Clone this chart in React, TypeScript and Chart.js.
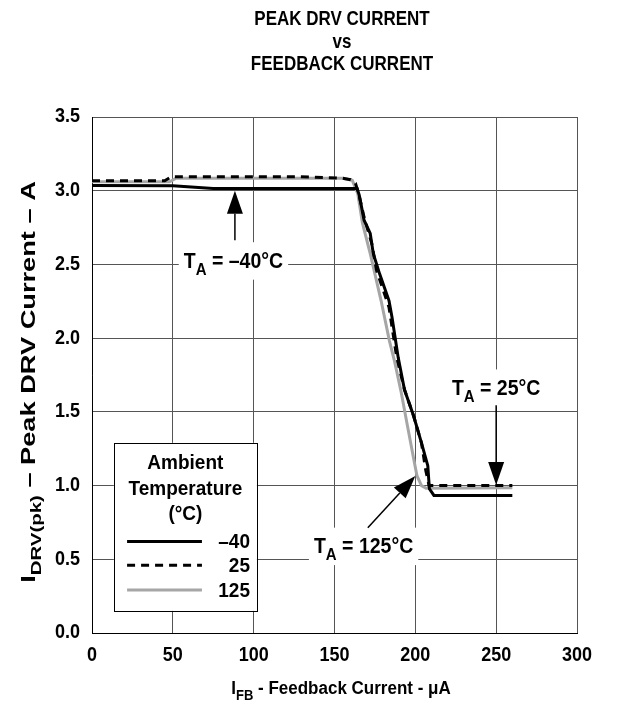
import React, { useEffect, useRef } from "react";
import { Chart, registerables } from "chart.js";

Chart.register(...registerables);

// ---------- data ----------
const TITLE_LINES = ["PEAK DRV CURRENT", "vs", "FEEDBACK CURRENT"];
const X_TICKS = [0, 50, 100, 150, 200, 250, 300];
const X_TICK_LABELS = ["0", "50", "100", "150", "200", "250", "300"];
const Y_TICKS = [0, 0.5, 1, 1.5, 2, 2.5, 3, 3.5];
const Y_TICK_LABELS = ["0.0", "0.5", "1.0", "1.5", "2.0", "2.5", "3.0", "3.5"];

const SERIES_LABELS = ["\u201340", "25", "125"];
const LEGEND_TITLE = ["Ambient", "Temperature", "(\u00B0C)"];

// T_A = -40 °C
const X_M40 = [0, 50, 75, 164, 165.3, 166.3, 168.3, 172.1, 174, 177.9, 183.7, 185.6, 189.4, 193.3, 199, 203.8, 207.7, 208.7, 211.5, 260];
const Y_M40 = [3.035, 3.034, 3.015, 3.015, 2.97, 2.914, 2.8, 2.71, 2.573, 2.436, 2.255, 2.14, 1.868, 1.65, 1.47, 1.29, 1.135, 0.978, 0.933, 0.933];

// T_A = 25 °C
const X_25 = [0, 45, 49, 128, 155, 160, 163, 165.4, 168.3, 173.1, 176, 183.7, 188.5, 193.3, 199, 203.8, 206.5, 208.5, 260];
const Y_25 = [3.068, 3.068, 3.095, 3.095, 3.085, 3.075, 3.05, 2.96, 2.82, 2.64, 2.46, 2.21, 1.868, 1.65, 1.47, 1.29, 1.1, 1.0, 1.0];

// T_A = 125 °C
const X_125 = [0, 48, 52, 155, 161, 164.4, 167.3, 172.1, 178.8, 184, 187, 191.3, 195.2, 199, 201, 203.8, 206.7, 260];
const Y_125 = [3.06, 3.06, 3.085, 3.085, 3.07, 2.98, 2.78, 2.573, 2.255, 1.98, 1.85, 1.63, 1.4, 1.18, 1.067, 1.0, 0.982, 0.985];

// annotation texts
const ANN_M40 = "\u201340\u00B0C";
const ANN_25 = "25\u00B0C";
const ANN_125 = "125\u00B0C";

// ---------- helpers ----------
const FONT_FAMILY = '"Liberation Sans", Arial, Helvetica, sans-serif';
const f = (size: number) => `bold ${size}px ${FONT_FAMILY}`;
const STRETCH = 1.1; // text in the figure is slightly taller than wide

type Part = { t: string; sub?: boolean };

function partsWidth(ctx: CanvasRenderingContext2D, parts: Part[], size: number) {
  let w = 0;
  for (const p of parts) {
    ctx.font = f(p.sub ? Math.round(size * 0.75) : size);
    w += ctx.measureText(p.t).width;
  }
  return w;
}

function drawPartsLocal(ctx: CanvasRenderingContext2D, parts: Part[], size: number, align: "left" | "center") {
  const w = partsWidth(ctx, parts, size);
  let cx = align === "center" ? -w / 2 : 0;
  ctx.textAlign = "left";
  ctx.textBaseline = "alphabetic";
  for (const p of parts) {
    const s = p.sub ? Math.round(size * 0.75) : size;
    ctx.font = f(s);
    ctx.fillText(p.t, cx, p.sub ? size * 0.32 : 0);
    cx += ctx.measureText(p.t).width;
  }
  return w;
}

function drawStretched(
  ctx: CanvasRenderingContext2D,
  parts: Part[],
  x: number,
  y: number,
  size: number,
  align: "left" | "center",
  stretch = STRETCH
) {
  ctx.save();
  ctx.translate(x, y);
  ctx.scale(1, stretch);
  const w = drawPartsLocal(ctx, parts, size, align);
  ctx.restore();
  return w;
}

function arrow(ctx: CanvasRenderingContext2D, x0: number, y0: number, x1: number, y1: number) {
  const ang = Math.atan2(y1 - y0, x1 - x0);
  const hl = 23;
  const hw = 8;
  const bx = x1 - hl * Math.cos(ang);
  const by = y1 - hl * Math.sin(ang);
  ctx.strokeStyle = "#000";
  ctx.lineWidth = 1.5;
  ctx.beginPath();
  ctx.moveTo(x0, y0);
  ctx.lineTo(bx, by);
  ctx.stroke();
  ctx.fillStyle = "#000";
  ctx.beginPath();
  ctx.moveTo(x1, y1);
  ctx.lineTo(bx + hw * Math.sin(ang), by - hw * Math.cos(ang));
  ctx.lineTo(bx - hw * Math.sin(ang), by + hw * Math.cos(ang));
  ctx.closePath();
  ctx.fill();
}

const decorPlugin = {
  id: "decor",
  afterDatasetsDraw(chart: any) {
    const ctx: CanvasRenderingContext2D = chart.ctx;
    const xs = chart.scales.x;
    const ys = chart.scales.y;
    const ca = chart.chartArea;
    const X = (v: number) => xs.getPixelForValue(v);
    const Y = (v: number) => ys.getPixelForValue(v);
    ctx.save();
    ctx.fillStyle = "#000";

    // tick labels (taken from the library's scales)
    xs.ticks.forEach((t: any, i: number) => {
      const lbl = t.label ?? X_TICK_LABELS[i];
      ctx.save();
      ctx.translate(X(t.value), ca.bottom + 23);
      ctx.scale(1, STRETCH);
      ctx.font = f(18);
      ctx.textAlign = "center";
      ctx.textBaseline = "middle";
      ctx.fillText(String(lbl), 0, 0);
      ctx.restore();
    });
    ys.ticks.forEach((t: any, i: number) => {
      const lbl = t.label ?? Y_TICK_LABELS[i];
      ctx.save();
      ctx.translate(ca.left - 12, Y(t.value));
      ctx.scale(1, STRETCH);
      ctx.font = f(18);
      ctx.textAlign = "right";
      ctx.textBaseline = "middle";
      ctx.fillText(String(lbl), 0, 0);
      ctx.restore();
    });

    // title
    const tcx = 342;
    const tb = [25, 47.5, 70];
    TITLE_LINES.forEach((l, i) => drawStretched(ctx, [{ t: l }], tcx, tb[i], 17, "center", 1.15));

    // x title
    drawStretched(
      ctx,
      [{ t: "I" }, { t: "FB", sub: true }, { t: " - Feedback Current - \u03BCA" }],
      341,
      694,
      17,
      "center"
    );

    // y title (rotated)
    ctx.save();
    ctx.translate(35, 382);
    ctx.rotate(-Math.PI / 2);
    ctx.scale(1.36, 1);
    drawPartsLocal(
      ctx,
      [{ t: "I" }, { t: "DRV(pk)", sub: true }, { t: " \u2013 Peak DRV Current \u2013 A" }],
      20,
      "center"
    );
    ctx.restore();

    // annotations with white boxes
    const ann = (val: string, xCenter: number, by: number) => {
      const parts: Part[] = [{ t: "T" }, { t: "A", sub: true }, { t: " = " + val }];
      const size = 19.5;
      const w = partsWidth(ctx, parts, size);
      const cx = X(xCenter);
      const byPx = Y(by);
      const capH = size * 0.72 * STRETCH;
      ctx.fillStyle = "#fff";
      ctx.fillRect(cx - w / 2 - 5, byPx - capH - 10, w + 10, capH + 22);
      ctx.fillStyle = "#000";
      drawStretched(ctx, parts, cx, byPx, size, "center");
    };
    ann(ANN_M40, 87.5, 2.478);
    ann(ANN_25, 250, 1.615);
    ann(ANN_125, 168, 0.542);

    arrow(ctx, X(88.4), Y(2.664), X(88.4), Y(3.0));
    arrow(ctx, X(250), Y(1.545), X(250), Y(1.004));
    arrow(ctx, X(170.6), Y(0.714), X(200), Y(1.065));

    // legend box
    const lx0 = X(13.5), lx1 = X(102), ly0 = Y(1.29), ly1 = Y(0.15);
    ctx.fillStyle = "#fff";
    ctx.fillRect(lx0, ly0, lx1 - lx0, ly1 - ly0);
    ctx.strokeStyle = "#000";
    ctx.lineWidth = 1;
    ctx.strokeRect(Math.round(lx0) + 0.5, Math.round(ly0) + 0.5, Math.round(lx1 - lx0), Math.round(ly1 - ly0));
    ctx.fillStyle = "#000";
    const lcx = (lx0 + lx1) / 2;
    const ltb = [1.11, 0.933, 0.765];
    LEGEND_TITLE.forEach((l, i) => drawStretched(ctx, [{ t: l }], lcx, Y(ltb[i]), 19, "center"));
    const ly = [0.62, 0.46, 0.292];
    chart.data.datasets.forEach((ds: any, i: number) => {
      ctx.save();
      ctx.strokeStyle = ds.borderColor;
      ctx.lineWidth = ds.borderWidth;
      ctx.setLineDash(ds.borderDash || []);
      ctx.beginPath();
      ctx.moveTo(X(21.7), Y(ly[i]));
      ctx.lineTo(X(68), Y(ly[i]));
      ctx.stroke();
      ctx.restore();
      ctx.save();
      ctx.translate(X(97.7), Y(ly[i]) + 1);
      ctx.scale(1, STRETCH);
      ctx.fillStyle = "#000";
      ctx.font = f(19);
      ctx.textAlign = "right";
      ctx.textBaseline = "middle";
      ctx.fillText(ds.label, 0, 0);
      ctx.restore();
    });

    ctx.restore();
  },
};

const toPts = (xs: number[], ys: number[]) => xs.map((x, i) => ({ x, y: ys[i] }));

export default function App() {
  const ref = useRef<HTMLCanvasElement | null>(null);
  useEffect(() => {
    if (!ref.current) return;
    const chart = new Chart(ref.current, {
      type: "line",
      data: {
        datasets: [
          {
            label: SERIES_LABELS[0],
            data: toPts(X_M40, Y_M40),
            borderColor: "#000",
            borderWidth: 3,
            pointRadius: 0,
            order: 1,
          },
          {
            label: SERIES_LABELS[1],
            data: toPts(X_25, Y_25),
            borderColor: "#000",
            borderWidth: 3,
            borderDash: [8, 6],
            pointRadius: 0,
            order: 0,
          },
          {
            label: SERIES_LABELS[2],
            data: toPts(X_125, Y_125),
            borderColor: "#a6a6a6",
            borderWidth: 3,
            pointRadius: 0,
            order: 2,
          },
        ],
      } as any,
      options: {
        animation: false,
        responsive: false,
        devicePixelRatio: 1,
        layout: { padding: { left: 0, top: 117, right: 62, bottom: 0 } },
        plugins: { legend: { display: false }, tooltip: { enabled: false }, title: { display: false } },
        scales: {
          x: {
            type: "linear",
            min: 0,
            max: 300,
            afterBuildTicks: (s: any) => {
              s.ticks = X_TICKS.map((v) => ({ value: v }));
            },
            afterFit: (s: any) => {
              s.height = 76;
            },
            ticks: {
              display: false,
              callback: (_v: any, i: number) => X_TICK_LABELS[i],
            },
            grid: { color: "#555", lineWidth: 1, drawTicks: false },
            border: { color: "#000", width: 1 },
          },
          y: {
            type: "linear",
            min: 0,
            max: 3.5,
            afterBuildTicks: (s: any) => {
              s.ticks = Y_TICKS.map((v) => ({ value: v }));
            },
            afterFit: (s: any) => {
              s.width = 92;
            },
            ticks: {
              display: false,
              callback: (_v: any, i: number) => Y_TICK_LABELS[i],
            },
            grid: { color: "#555", lineWidth: 1, drawTicks: false },
            border: { color: "#000", width: 1 },
          },
        },
      } as any,
      plugins: [decorPlugin],
    });
    return () => chart.destroy();
  }, []);
  return (
    <div style={{ position: "absolute", left: 0, top: 0, width: 639, height: 709, background: "#fff" }}>
      <canvas ref={ref} width={639} height={709} style={{ width: 639, height: 709 }} />
    </div>
  );
}
